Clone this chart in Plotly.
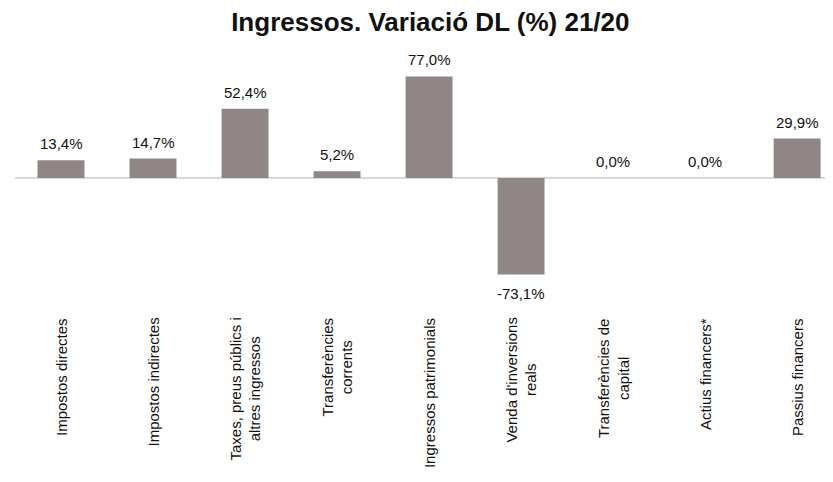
import plotly.graph_objects as go

categories = [
    "Impostos directes",
    "Impostos indirectes",
    "Taxes, preus públics i<br>altres ingressos",
    "Transferències<br>corrents",
    "Ingressos patrimonials",
    "Venda d'inversions<br>reals",
    "Transferències de<br>capital",
    "Actius financers*",
    "Passius financers",
]
values = [13.4, 14.7, 52.4, 5.2, 77.0, -73.1, 0.0, 0.0, 29.9]

FONT = "Arial"
TXT = "#111111"

fig = go.Figure()
fig.add_trace(go.Bar(
    x=list(range(len(categories))),
    y=values,
    marker=dict(color="#908686", line=dict(width=0)),
    cliponaxis=False,
    width=0.51,
    hovertemplate="%{y:.1f}%<extra></extra>",
))

# value labels
for i, v in enumerate(values):
    lab = f"{v:.1f}%".replace(".", ",")
    if v >= 0:
        fig.add_annotation(x=i, y=v, xref="x", yref="y", text=lab, showarrow=False,
                           yanchor="bottom", yshift=6,
                           font=dict(family=FONT, size=15, color=TXT))
    else:
        fig.add_annotation(x=i, y=v, xref="x", yref="y", text=lab, showarrow=False,
                           yanchor="top", yshift=-8,
                           font=dict(family=FONT, size=15, color=TXT))

# category labels (rotated, centre-aligned lines)
for i, c in enumerate(categories):
    fig.add_annotation(x=i, y=0, xref="x", yref="paper", text=c, showarrow=False,
                       textangle=-90, xanchor="center", yanchor="top", yshift=-6,
                       align="center",
                       font=dict(family=FONT, size=15, color=TXT))

fig.update_layout(
    width=833, height=482,
    separators=",.",
    paper_bgcolor="white", plot_bgcolor="white",
    margin=dict(l=7, r=8, t=42, b=180, autoexpand=False),
    title=dict(text="<b>Ingressos. Variació DL (%) 21/20</b>", x=0.507, xanchor="center",
               y=0.971, yanchor="middle",
               font=dict(family=FONT, size=26, color=TXT)),
    showlegend=False,
    xaxis=dict(
        range=[-0.5, 8.39], showgrid=False, showline=False, ticks="",
        showticklabels=False, automargin=False, zeroline=False,
    ),
    yaxis=dict(
        range=[-100, 97], showgrid=False, showticklabels=False, showline=False,
        zeroline=True, zerolinecolor="#d9d9d9", zerolinewidth=2, automargin=False,
    ),
)

fig.write_html("out.html")
